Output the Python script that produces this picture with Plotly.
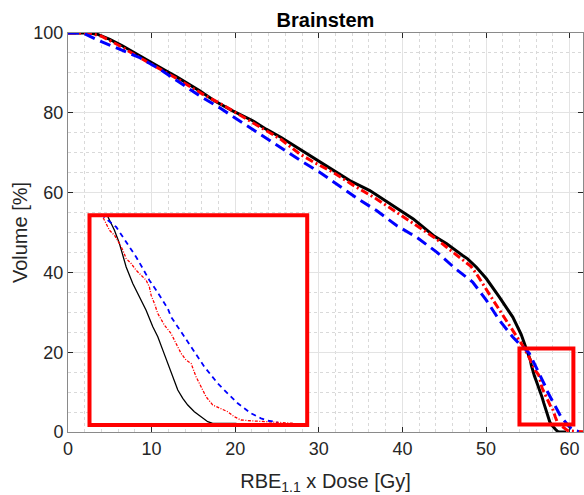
import plotly.graph_objects as go

# ---------------- data ----------------
black_dose = [0, 2.5, 3.5, 5.0, 6.5, 8.2, 9.8, 11.5, 13.0, 15.75, 17.5, 19.7, 22.1, 23.7, 25.5,
              27.7, 30.1, 31.7, 33.7, 36.1, 38.9, 41.3, 43.7, 45.3, 47.2, 47.8, 48.85, 50.05,
              51.6, 53.2, 54.2,
              54.875, 55.117, 55.30, 55.426, 55.547, 55.79, 56.035, 56.28, 56.527, 56.71, 56.894,
              57.077, 57.26, 57.444, 57.628, 57.81, 58.053, 58.30, 58.545, 58.728, 59.03, 59.6]
black_vol = [100, 100, 99.7, 98.4, 96.8, 94.7, 92.9, 90.8, 89.0, 85.5, 83.0, 80.5, 78.0, 75.9, 73.8,
             70.9, 67.6, 65.5, 63.0, 60.5, 56.75, 53.4, 49.25, 47.2, 44.25, 43.4, 41.3, 38.4,
             33.8, 28.8, 24.5,
             20.68, 19.35, 18.02, 16.68, 15.68, 14.02, 12.68, 11.35, 9.68, 8.68, 7.35,
             6.02, 4.68, 3.35, 2.52, 1.85, 1.18, 0.68, 0.18, 0.02, 0.0, 0.0]

red_dose = [0, 2.5, 4.0, 6.0, 8.6, 11.0, 13.5, 16.0, 18.5, 20.5, 23.0, 25.5, 27.7, 29.5, 31.7,
            34.0, 36.9, 39.5, 42.1, 44.0, 45.3, 47.2, 48.2, 48.9, 50.0, 50.8, 52.4, 54.0,
            54.69, 54.81, 54.934, 55.117, 55.24, 55.30, 55.426, 55.547, 55.73, 55.914, 56.097,
            56.28, 56.40, 56.464, 56.585, 56.71, 56.952, 57.198, 57.38, 57.565, 57.749, 57.932,
            58.116, 58.30, 58.484, 58.728, 59.03, 59.279, 59.52, 59.767, 60.255, 60.747, 61.235,
            61.72]
red_vol = [100, 100, 99.2, 97.0, 93.8, 91.0, 88.0, 84.8, 82.0, 79.5, 76.5, 73.3, 69.7, 67.5, 65.1,
           62.0, 58.4, 54.8, 51.3, 48.5, 46.3, 43.0, 41.5, 39.5, 36.0, 33.2, 28.0, 23.0,
           20.68, 20.02, 19.35, 18.85, 18.35, 18.02, 17.35, 16.52, 16.02, 15.35, 14.85,
           14.35, 13.68, 12.85, 12.02, 11.02, 9.85, 9.02, 8.02, 7.02, 6.35, 6.02,
           4.68, 3.68, 2.68, 1.85, 1.52, 1.18, 0.68, 0.35, 0.25, 0.18, 0.08,
           0.02]

blue_dose = [0, 1.8, 3.8, 6.2, 8.6, 11.0, 13.4, 15.75, 18.1, 20.5, 22.9, 25.3, 27.7, 30.1, 32.1,
             34.7, 36.9, 39.3, 41.7, 44.1, 46.3, 48.4, 50.05, 51.6, 53.2, 54.2,
             54.75, 54.875, 55.18, 55.426, 55.668, 55.914, 56.16, 56.40, 56.65, 56.894, 57.077,
             57.198, 57.444, 57.686, 57.932, 58.178, 58.42, 58.666, 58.91, 59.154, 59.40, 59.646,
             59.888, 60.134, 60.50, 60.747, 60.99, 61.1]
blue_vol = [100, 100, 98.0, 95.9, 93.8, 90.9, 87.6, 84.25, 81.3, 78.0, 74.7, 71.3, 68.2, 65.1, 62.2,
            58.4, 55.5, 51.75, 48.8, 45.1, 41.0, 37.6, 33.0, 28.0, 23.8, 21.6,
            20.68, 20.35, 19.68, 18.68, 17.68, 16.68, 15.52, 14.35, 13.35, 12.35, 11.52,
            10.68, 9.68, 8.68, 7.68, 6.68, 5.68, 4.85, 4.02, 3.35, 2.68, 2.02,
            1.52, 1.02, 0.52, 0.28, 0.18, 0.15]

x_ticks = [0, 10, 20, 30, 40, 50, 60]
y_ticks = [0, 20, 40, 60, 80, 100]
title_text = "Brainstem"
x_title = "RBE<sub>1.1</sub> x Dose [Gy]"
y_title = "Volume [%]"

# zoom region marked on the main axes and the range shown in the inset
zoom_box_x = [54.0, 60.45]
zoom_box_y = [1.9, 20.9]
inset_x_range = [54.2, 62.2]
inset_y_range = [-0.15, 20.85]

# ---------------- figure ----------------
FONT = "Liberation Sans, Arial, Helvetica, sans-serif"
W, H = 584, 495
L, R, T, B = 68, 1, 33, 63

fig = go.Figure()

main_styles = [
    (black_dose, black_vol, "#000000", "solid", 3.0),
    (red_dose, red_vol, "#ff0000", "8px,3px,2px,3px", 3.0),
    (blue_dose, blue_vol, "#0000ff", "11px,6px", 3.0),
]
inset_styles = [
    ("solid", 1.3),
    ("3px,1.5px,1px,1.5px", 1.3),
    ("5px,4px", 1.8),
]

for (xs, ys, col, dash, w) in main_styles:
    fig.add_trace(go.Scatter(x=xs, y=ys, mode="lines",
                             line=dict(color=col, width=w, dash=dash),
                             showlegend=False, hoverinfo="skip",
                             xaxis="x", yaxis="y"))

for (xs, ys, col, _, _), (dash, w) in zip(main_styles, inset_styles):
    fig.add_trace(go.Scatter(x=xs, y=ys, mode="lines",
                             line=dict(color=col, width=w, dash=dash),
                             showlegend=False, hoverinfo="skip",
                             xaxis="x2", yaxis="y2"))

pw = W - L - R
ph = H - T - B
# inset box pixel location (measured) -> paper fractions
ix0, ix1 = 89.5, 307.2
iy0, iy1 = 215.3, 425.0
dom_x = [(ix0 - L) / pw, (ix1 - L) / pw]
dom_y = [(H - B - iy1) / ph, (H - B - iy0) / ph]

axis_common = dict(
    showline=True, linecolor="#8a8a8a", linewidth=1, mirror="ticks",
    ticks="inside", ticklen=5, tickcolor="#262626", tickwidth=1,
    showgrid=True, gridcolor="#e3e3e3", gridwidth=1,
    zeroline=False,
    tickfont=dict(family=FONT, size=18, color="#262626"),
)

fig.update_layout(
    width=W, height=H,
    margin=dict(l=L, r=R, t=T, b=B, autoexpand=False),
    paper_bgcolor="white", plot_bgcolor="white",
    font=dict(family=FONT, color="#262626"),
    title=dict(text="<b>" + title_text + "</b>", x=0.5, xref="paper", xanchor="center",
               y=1 - 20 / H, yref="container", yanchor="middle",
               font=dict(family=FONT, size=20, color="#000000")),
    xaxis=dict(range=[0, 61.6], tickvals=x_ticks, domain=[0, 1],
               title=dict(text=x_title, standoff=25,
                          font=dict(family=FONT, size=20, color="#262626")),
               minor=dict(dtick=2, tick0=0, showgrid=True, gridcolor="#d9d9d9",
                          griddash="dot", gridwidth=1),
               **axis_common),
    yaxis=dict(range=[0, 100], tickvals=y_ticks, domain=[0, 1],
               title=dict(text=y_title, standoff=0,
                          font=dict(family=FONT, size=20, color="#262626")),
               minor=dict(dtick=5, tick0=0, showgrid=True, gridcolor="#d9d9d9",
                          griddash="dot", gridwidth=1),
               **axis_common),
    xaxis2=dict(range=inset_x_range, domain=dom_x, anchor="y2",
                showgrid=False, zeroline=False, showline=False,
                showticklabels=False, ticks=""),
    yaxis2=dict(range=inset_y_range, domain=dom_y, anchor="x2",
                showgrid=False, zeroline=False, showline=False,
                showticklabels=False, ticks=""),
)

# zoom marker rectangle on the main axes
fig.add_shape(type="rect", xref="x", yref="y",
              x0=zoom_box_x[0], x1=zoom_box_x[1], y0=zoom_box_y[0], y1=zoom_box_y[1],
              line=dict(color="#ff0000", width=4), fillcolor="rgba(0,0,0,0)", layer="above")
# inset frame
fig.add_shape(type="rect", xref="x2 domain", yref="y2 domain",
              x0=0, x1=1, y0=0, y1=1,
              line=dict(color="#ff0000", width=4), fillcolor="rgba(0,0,0,0)", layer="above")

fig.write_html("out.html",
               config={"displayModeBar": False},
               post_script="document.body.style.margin='0';document.body.style.overflow='hidden';")
